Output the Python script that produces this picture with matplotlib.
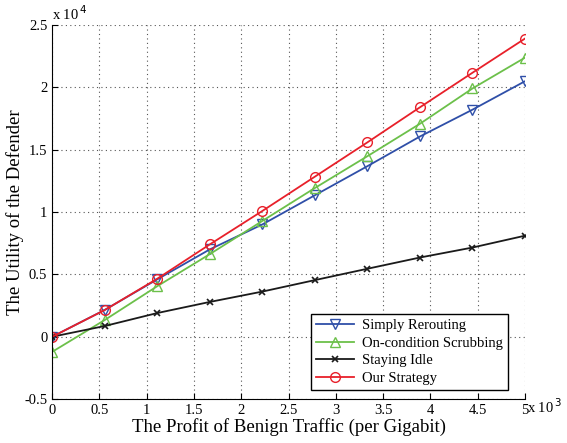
import numpy as np
import matplotlib.pyplot as plt
from matplotlib.ticker import FuncFormatter

plt.rcParams['font.family'] = ['Liberation Serif', 'DejaVu Serif']

# profit of benign traffic (per gigabit)
profit = np.linspace(0, 5000, 10)

rerouting = [0, 2150, 4600, 7000, 9000, 11340, 13670, 16050, 18200, 20480]
scrubbing = [-1210, 1340, 4050, 6620, 9280, 11920, 14470, 17070, 19900, 22370]
idle = [0, 860, 1900, 2790, 3620, 4540, 5450, 6350, 7150, 8100]
ours = [0, 2140, 4650, 7400, 10080, 12830, 15580, 18390, 21160, 23900]

labels = ['Simply Rerouting', 'On-condition Scrubbing', 'Staying Idle', 'Our Strategy']

fig = plt.figure(figsize=(5.67, 4.43), dpi=100)
ax = fig.add_axes([0.092, 0.099, 0.834, 0.845])

ax.plot(profit, rerouting, '-v', color='#2f4fa8', mfc='none', ms=7, lw=1.3, label=labels[0])
ax.plot(profit, scrubbing, '-^', color='#6cc04a', mfc='none', ms=7, lw=1.3, label=labels[1])
ax.plot(profit, idle, '-x', color='#1a1a1a', ms=4, mew=1.2, lw=1.3, label=labels[2])
ax.plot(profit, ours, '-o', color='#e8202a', mfc='none', ms=7, lw=1.3, label=labels[3])

ax.set_xlim(0, 5000)
ax.set_ylim(-5000, 25000)
ax.set_xticks(np.arange(0, 5001, 500))
ax.set_yticks(np.arange(-5000, 25001, 5000))
ax.xaxis.set_major_formatter(FuncFormatter(lambda v, p: '%g' % (v / 1000)))
ax.yaxis.set_major_formatter(FuncFormatter(lambda v, p: '%g' % (v / 10000)))
ax.tick_params(direction='in', labelsize=10.5, length=4)
ax.grid(True, linestyle=(0, (1, 3)), color='#555555', lw=0.8)
ax.spines['top'].set_visible(False)
ax.spines['right'].set_visible(False)

ax.text(0.0, 1.005, r'x 10$^{\,4}$', transform=ax.transAxes, fontsize=10.5, va='bottom')
ax.text(1.005, -0.045, r'x 10$^{\,3}$', transform=ax.transAxes, fontsize=10.5, va='bottom')

ax.set_xlabel('The Profit of Benign Traffic (per Gigabit)', fontsize=13.5, labelpad=1)
ax.set_ylabel('The Utility of the Defender', fontsize=13.5, labelpad=0)

leg = ax.legend(loc='lower right', bbox_to_anchor=(0.98, 0.005), fontsize=10.5,
                fancybox=False, edgecolor='black', framealpha=1, handlelength=2.6,
                borderpad=0.35, labelspacing=0.3, handletextpad=0.6)
leg.get_frame().set_linewidth(1.0)

fig.savefig('out.png', dpi=100)
